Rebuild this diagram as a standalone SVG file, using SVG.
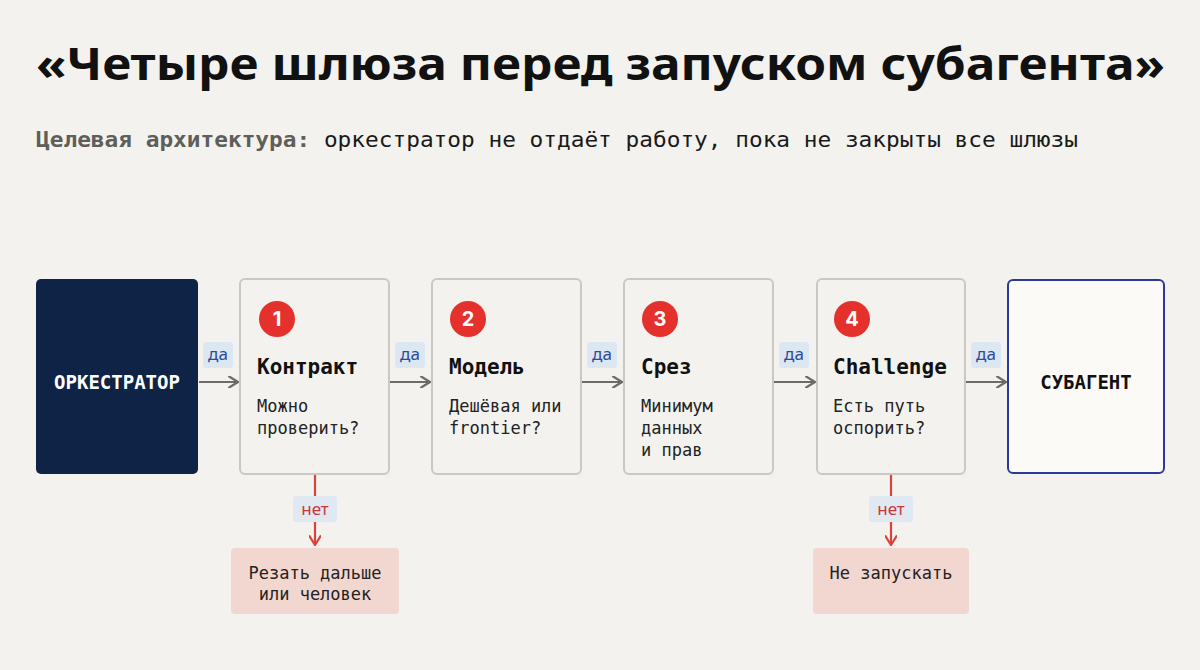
<svg xmlns="http://www.w3.org/2000/svg" width="1200" height="670" viewBox="0 0 1200 670">
<defs>
<style>
.mono{font-family:"DejaVu Sans Mono","Liberation Mono",monospace}
.gate{fill:#f3f2ee;stroke:#c9c8c2;stroke-width:2}
.num{fill:#e5312b}
.numt{font-family:"Inter","Liberation Sans",sans-serif;font-weight:700;font-size:20px;fill:#fff;text-anchor:middle}
.ttl{font-size:21px;font-weight:700;fill:#111}
.body{font-size:17px;fill:#222}
.yes{fill:#dbe7f3}
.yest{font-family:"Noto Sans","Liberation Sans",sans-serif;font-size:17px;fill:#2d4a9a;text-anchor:middle}
.no{fill:#e0e8f1}
.not{font-family:"Noto Sans","Liberation Sans",sans-serif;font-size:17px;fill:#c8373a;text-anchor:middle}
.fail{fill:#f2d6d0}
.failt{font-size:17px;fill:#222;text-anchor:middle}
</style>
<marker id="ag" viewBox="0 0 10 10" refX="9" refY="5" markerWidth="12" markerHeight="12" markerUnits="userSpaceOnUse" orient="auto"><path d="M1,0 L9,5 L1,10" fill="none" stroke="#6b6b68" stroke-width="1.8"/></marker>
<marker id="ar" viewBox="0 0 10 10" refX="9" refY="5" markerWidth="12" markerHeight="12" markerUnits="userSpaceOnUse" orient="auto"><path d="M1,0 L9,5 L1,10" fill="none" stroke="#d9433c" stroke-width="1.8"/></marker>
</defs>
<rect width="1200" height="670" fill="#f3f2ee"/>
<text x="36" y="80" font-family="'Noto Sans','Liberation Sans',sans-serif" font-weight="700" font-size="44" fill="#111" textLength="1129" lengthAdjust="spacingAndGlyphs">«Четыре шлюза перед запуском субагента»</text>
<text x="36" y="147" class="mono" font-size="22" textLength="1042" lengthAdjust="spacingAndGlyphs"><tspan font-weight="700" fill="#5e5e5a">Целевая архитектура:</tspan><tspan fill="#1a1a1a"> оркестратор не отдаёт работу, пока не закрыты все шлюзы</tspan></text>

<g id="connectors" stroke-width="2.2" fill="none">
<line x1="199" y1="382" x2="238" y2="382" stroke="#6b6b68" marker-end="url(#ag)"/>
<line x1="390" y1="382" x2="430" y2="382" stroke="#6b6b68" marker-end="url(#ag)"/>
<line x1="582" y1="382" x2="622" y2="382" stroke="#6b6b68" marker-end="url(#ag)"/>
<line x1="774" y1="382" x2="815" y2="382" stroke="#6b6b68" marker-end="url(#ag)"/>
<line x1="966" y1="382" x2="1006" y2="382" stroke="#6b6b68" marker-end="url(#ag)"/>
<line x1="315" y1="475" x2="315" y2="545" stroke="#d9433c" marker-end="url(#ar)"/>
<line x1="891" y1="475" x2="891" y2="545" stroke="#d9433c" marker-end="url(#ar)"/>
<g stroke="none">
<rect class="yes" x="203" y="342" width="30" height="26" rx="3"/><text class="yest" x="218" y="360">да</text>
<rect class="yes" x="395" y="342" width="30" height="26" rx="3"/><text class="yest" x="410" y="360">да</text>
<rect class="yes" x="587" y="342" width="30" height="26" rx="3"/><text class="yest" x="602" y="360">да</text>
<rect class="yes" x="779" y="342" width="30" height="26" rx="3"/><text class="yest" x="794" y="360">да</text>
<rect class="yes" x="971" y="342" width="30" height="26" rx="3"/><text class="yest" x="986" y="360">да</text>
<rect class="no" x="293" y="496" width="44" height="26" rx="3"/><text class="not" x="315" y="515">нет</text>
<rect class="no" x="869" y="496" width="44" height="26" rx="3"/><text class="not" x="891" y="515">нет</text>
</g>
</g>

<g id="orchestrator"><rect x="36" y="279" width="162" height="195" rx="5" fill="#0f2346"/><text x="117" y="389" class="mono" font-size="19" font-weight="700" fill="#fff" text-anchor="middle">ОРКЕСТРАТОР</text></g>

<g id="gate1"><rect class="gate" x="240" y="279" width="149" height="195" rx="5"/><circle class="num" cx="277" cy="319" r="18"/><text class="numt" x="277" y="326">1</text><text class="mono ttl" x="257" y="374">Контракт</text><text class="mono body" x="257" y="412">Можно</text><text class="mono body" x="257" y="434">проверить?</text></g>
<g id="gate2"><rect class="gate" x="432" y="279" width="149" height="195" rx="5"/><circle class="num" cx="468" cy="319" r="18"/><text class="numt" x="468" y="326">2</text><text class="mono ttl" x="449" y="374">Модель</text><text class="mono body" x="449" y="412">Дешёвая или</text><text class="mono body" x="449" y="434">frontier?</text></g>
<g id="gate3"><rect class="gate" x="624" y="279" width="149" height="195" rx="5"/><circle class="num" cx="660" cy="319" r="18"/><text class="numt" x="660" y="326">3</text><text class="mono ttl" x="641" y="374">Срез</text><text class="mono body" x="641" y="412">Минимум</text><text class="mono body" x="641" y="434">данных</text><text class="mono body" x="641" y="456">и прав</text></g>
<g id="gate4"><rect class="gate" x="817" y="279" width="148" height="195" rx="5"/><circle class="num" cx="852" cy="319" r="18"/><text class="numt" x="852" y="326">4</text><text class="mono ttl" x="833" y="374">Challenge</text><text class="mono body" x="833" y="412">Есть путь</text><text class="mono body" x="833" y="434">оспорить?</text></g>

<g id="subagent"><rect x="1008" y="280" width="156" height="193" rx="5" fill="#fbfaf7" stroke="#2b3a9a" stroke-width="2"/><text x="1086" y="389" class="mono" font-size="19" font-weight="700" fill="#111" text-anchor="middle">СУБАГЕНТ</text></g>

<g id="fail1"><rect class="fail" x="231" y="548" width="168" height="66" rx="4"/><text class="mono failt" x="315" y="579">Резать дальше</text><text class="mono failt" x="315" y="600">или человек</text></g>
<g id="fail4"><rect class="fail" x="813" y="548" width="156" height="66" rx="4"/><text class="mono failt" x="891" y="579">Не запускать</text></g>
</svg>
